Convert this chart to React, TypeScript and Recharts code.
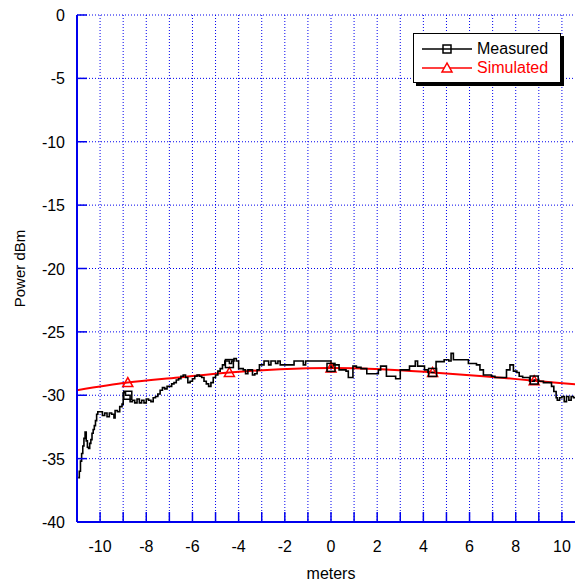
import React from "react";
import {
  LineChart,
  Line,
  XAxis,
  YAxis,
  CartesianGrid,
  Legend,
} from "recharts";

// measured trace (meters, dBm)
const measX = [
  -10.95, -10.9, -10.85, -10.8, -10.75, -10.7, -10.65, -10.6, -10.55, -10.5,
  -10.45, -10.4, -10.35, -10.3, -10.25, -10.2, -10.15, -10.1, -10.0, -9.9,
  -9.8, -9.7, -9.6, -9.5, -9.4, -9.35, -9.25, -9.15, -9.05, -9.0, -8.9, -8.8,
  -8.7, -8.6, -8.5, -8.4, -8.3, -8.2, -8.1, -8.0, -7.9, -7.8, -7.7, -7.6,
  -7.5, -7.4, -7.3, -7.2, -7.1, -7.0, -6.9, -6.8, -6.7, -6.6, -6.5, -6.4,
  -6.3, -6.2, -6.1, -6.0, -5.9, -5.8, -5.7, -5.6, -5.5, -5.4, -5.3, -5.2,
  -5.1, -5.0, -4.9, -4.8, -4.7, -4.6, -4.5, -4.4, -4.3, -4.2, -4.1, -4.0,
  -3.9, -3.8, -3.7, -3.6, -3.5, -3.4, -3.3, -3.2, -3.1, -3.0, -2.9, -2.8,
  -2.7, -2.6, -2.5, -2.4, -2.3, -2.2, -2.0, -1.8, -1.6, -1.4, -1.2, -1.1,
  -0.8, -0.5, -0.3, -0.1, 0.0, 0.1, 0.2, 0.35, 0.5, 0.65, 0.75, 0.85, 0.95,
  1.1, 1.3, 1.45, 1.55, 1.7, 1.9, 2.05, 2.15, 2.3, 2.4, 2.6, 2.8, 2.95, 3.0,
  3.2, 3.4, 3.55, 3.65, 3.75, 3.9, 4.05, 4.2, 4.4, 4.55, 4.7, 4.9, 5.1, 5.2,
  5.3, 5.5, 5.7, 5.8, 5.95, 6.1, 6.3, 6.45, 6.6, 6.8, 6.95, 7.1, 7.3, 7.5,
  7.6, 7.75, 7.9, 8.05, 8.15, 8.3, 8.45, 8.6, 8.8, 9.0, 9.2, 9.4, 9.55, 9.65,
  9.75, 9.8, 9.9, 10.0, 10.1, 10.2, 10.3, 10.4, 10.5, 10.6, 10.8, 11.0,
];
const measY = [
  -36.5, -36.0, -35.2, -34.6, -34.0, -33.4, -32.9, -33.6, -34.1, -34.2,
  -33.8, -33.5, -33.0, -32.7, -32.4, -32.0, -31.5, -31.3, -31.3, -31.6,
  -31.4, -31.7, -31.4, -31.5, -31.8, -31.2, -31.3, -30.9, -30.7, -29.8, -30.0, -30.0,
  -30.5, -30.4, -30.6, -30.3, -30.6, -30.4, -30.6, -30.3, -30.4, -30.5, -30.2, -30.1,
  -29.9, -29.6, -29.4, -29.5, -29.3, -29.3, -29.1, -29.0, -28.8, -28.7, -28.5, -28.4,
  -28.6, -29.0, -28.9, -28.7, -28.5, -28.4, -28.5, -28.6, -28.9, -29.1, -29.3, -29.0,
  -28.6, -28.4, -28.1, -27.9, -27.6, -27.3, -27.3, -27.5, -27.3, -27.1, -27.3, -27.9,
  -27.9, -28.0, -28.3, -28.0, -28.0, -28.4, -28.3, -28.0, -27.6, -27.6, -27.3, -27.3,
  -27.6, -27.3, -27.3, -27.5, -27.3, -27.6, -27.6, -27.6, -27.3, -27.3, -27.6, -27.3,
  -27.3, -27.3, -27.3, -27.3, -27.8, -27.6, -27.6, -28.0, -28.0, -28.1, -28.6, -28.6, -27.7,
  -27.8, -27.9, -27.9, -28.3, -28.3, -28.3, -28.0, -27.7, -27.7, -28.5, -28.5, -28.7, -28.7, -28.0,
  -28.0, -27.7, -27.7, -27.3, -27.7, -27.7, -28.0, -28.2, -28.2, -27.35, -27.35, -27.2, -27.3, -26.7,
  -27.2, -27.2, -27.2, -27.2, -27.5, -27.5, -27.6, -28.0, -28.4, -28.4, -28.5, -28.6, -28.6, -28.6,
  -28.0, -27.6, -28.1, -28.2, -28.5, -28.6, -28.6, -28.9, -28.8, -28.9, -29.0, -29.0, -29.3, -29.7,
  -30.2, -30.4, -30.2, -30.1, -30.5, -30.1, -30.4, -30.1, -30.2, -30.1, -30.2, -30.1,
];

// simulated curve
const simX = [-11, -8.8, -6.6, -4.4, -2.2, 0, 2.2, 4.4, 6.6, 8.8, 11];
const simY = [-29.6, -29.0, -28.6, -28.2, -27.95, -27.85, -27.95, -28.2, -28.5, -28.85, -29.2];

// positions that carry a symbol
const markerX = [-8.8, -4.4, 0, 4.4, 8.8];

const xTicks = [
  -11, -10, -9, -8, -7, -6, -5, -4, -3, -2, -1, 0, 1, 2, 3, 4, 5, 6, 7, 8, 9, 10, 11,
];
const yTicks = [-40, -35, -30, -25, -20, -15, -10, -5, 0];

const measured = measX.map((x, i) => ({ x, y: measY[i] }));
const simulated = simX.map((x, i) => ({ x, y: simY[i] }));

const BLUE = "#0000ee";
const FONT = "'Liberation Sans', Arial, sans-serif";

const BottomTick = (props: any) => {
  const { x, y, payload } = props;
  const v = payload.value;
  const showLabel = v % 2 === 0 && Math.abs(v) <= 10;
  return (
    <g>
      <line x1={x} y1={y} x2={x} y2={y - 10} stroke={BLUE} strokeWidth={1.5} />
      {showLabel && (
        <text x={x} y={y + 30} textAnchor="middle" fontSize={16} fill="#000" fontFamily={FONT}>
          {v}
        </text>
      )}
    </g>
  );
};

const TopTick = (props: any) => {
  const { x, y } = props;
  return <line x1={x} y1={y} x2={x} y2={y + 10} stroke={BLUE} strokeWidth={1.5} />;
};

const LeftTick = (props: any) => {
  const { x, y, payload } = props;
  return (
    <g>
      <line x1={x} y1={y} x2={x + 10} y2={y} stroke={BLUE} strokeWidth={1.5} />
      <text x={x - 12} y={y + 6} textAnchor="end" fontSize={16} fill="#000" fontFamily={FONT}>
        {payload.value}
      </text>
    </g>
  );
};

const isMarker = (x: number) => markerX.some((m) => Math.abs(m - x) < 1e-6);

const SquareDot = (props: any) => {
  const { cx, cy, payload, index } = props;
  if (!isMarker(payload.x)) return <g key={`m-${index}`} />;
  return (
    <rect
      key={`m-${index}`}
      x={cx - 4}
      y={cy - 4}
      width={8}
      height={8}
      fill="none"
      stroke="#000"
      strokeWidth={1.5}
    />
  );
};

const TriangleDot = (props: any) => {
  const { cx, cy, payload, index } = props;
  if (!isMarker(payload.x)) return <g key={`s-${index}`} />;
  return (
    <polygon
      key={`s-${index}`}
      points={`${cx},${cy - 5} ${cx - 5},${cy + 4} ${cx + 5},${cy + 4}`}
      fill="none"
      stroke="#ff0000"
      strokeWidth={1.5}
    />
  );
};

const LegendBox = () => {
  const rows = [
    { name: "Measured", color: "#000", shape: "square" },
    { name: "Simulated", color: "#ff0000", shape: "triangle" },
  ];
  return (
    <div
      style={{
        width: 148,
        height: 50,
        border: "1.5px solid #000",
        boxShadow: "3px 3px 0 #000",
        background: "#fff",
        fontFamily: FONT,
        fontSize: 16,
        padding: "5px 0 0 8px",
        boxSizing: "border-box",
      }}
    >
      {rows.map((r) => (
        <div key={r.name} style={{ display: "flex", alignItems: "center", height: 19 }}>
          <svg width={52} height={14}>
            <line x1={0} y1={7} x2={50} y2={7} stroke={r.color} strokeWidth={1.5} />
            {r.shape === "square" ? (
              <rect x={21} y={3} width={8} height={8} fill="none" stroke={r.color} strokeWidth={1.5} />
            ) : (
              <polygon points="25,2 20,11 30,11" fill="#fff" stroke={r.color} strokeWidth={1.5} />
            )}
          </svg>
          <span style={{ color: r.color, marginLeft: 3 }}>{r.name}</span>
        </div>
      ))}
    </div>
  );
};

export default function App() {
  return (
    <div
      style={{
        position: "absolute",
        left: 0,
        top: 0,
        width: 575,
        height: 584,
        overflow: "hidden",
        background: "#fff",
      }}
    >
      <LineChart
        width={600}
        height={584}
        margin={{ top: 15, right: 15, left: 17, bottom: 22 }}
        style={{ fontFamily: FONT }}
      >
        <CartesianGrid stroke={BLUE} strokeDasharray="1 2" strokeWidth={1} />
        <XAxis
          xAxisId={0}
          dataKey="x"
          type="number"
          domain={[-11, 11]}
          ticks={xTicks}
          interval={0}
          allowDataOverflow
          height={40}
          tickSize={0}
          tickMargin={0}
          tickLine={false}
          tick={<BottomTick />}
          axisLine={{ stroke: BLUE, strokeWidth: 2 }}
          label={{
            value: "meters",
            position: "insideBottom",
            offset: -17,
            fontSize: 16,
            fill: "#000",
            fontFamily: FONT,
          }}
        />
        <XAxis
          xAxisId="top"
          orientation="top"
          dataKey="x"
          type="number"
          domain={[-11, 11]}
          ticks={xTicks}
          interval={0}
          height={0}
          tickSize={0}
          tickMargin={0}
          tickLine={false}
          tick={<TopTick />}
          axisLine={{ stroke: BLUE, strokeWidth: 2 }}
        />
        <YAxis
          type="number"
          domain={[-40, 0]}
          ticks={yTicks}
          interval={0}
          width={60}
          tickSize={0}
          tickMargin={0}
          tickLine={false}
          tick={<LeftTick />}
          axisLine={{ stroke: BLUE, strokeWidth: 2 }}
          label={{
            value: "Power dBm",
            angle: -90,
            position: "insideLeft",
            offset: 3,
            fontSize: 15,
            fill: "#000",
            fontFamily: FONT,
            style: { textAnchor: "middle" },
          }}
        />
        <Legend
          layout="horizontal"
          verticalAlign="middle"
          align="center"
          content={<LegendBox />}
          wrapperStyle={{ position: "absolute", top: 33, left: 413, width: 152 }}
        />
        <Line
          name="Simulated"
          data={simulated}
          dataKey="y"
          type="monotone"
          stroke="#ff0000"
          strokeWidth={2}
          dot={<TriangleDot />}
          activeDot={false}
          isAnimationActive={false}
        />
        <Line
          name="Measured"
          data={measured}
          dataKey="y"
          type="stepAfter"
          stroke="#000"
          strokeWidth={1.6}
          dot={<SquareDot />}
          activeDot={false}
          isAnimationActive={false}
        />
      </LineChart>
    </div>
  );
}
